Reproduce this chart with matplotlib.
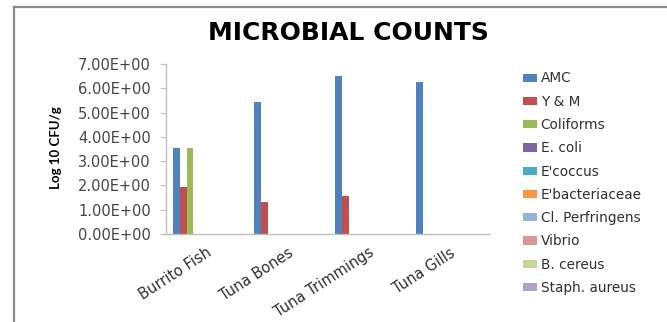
import matplotlib
matplotlib.use("Agg")
import matplotlib.pyplot as plt
import numpy as np
from matplotlib.lines import Line2D

categories = ["Burrito Fish", "Tuna Bones", "Tuna Trimmings", "Tuna Gills"]
series_names = ["AMC", "Y & M", "Coliforms", "E. coli", "E'coccus", "E'bacteriaceae",
                "Cl. Perfringens", "Vibrio", "B. cereus", "Staph. aureus"]
amc = [3.55, 5.42, 6.51, 6.24]
y_m = [1.95, 1.33, 1.58, 0.0]
coliforms = [3.55, 0.0, 0.0, 0.0]
e_coli = [0.0, 0.0, 0.0, 0.0]
e_coccus = [0.0, 0.0, 0.0, 0.0]
e_bacteriaceae = [0.0, 0.0, 0.0, 0.0]
cl_perfringens = [0.0, 0.0, 0.0, 0.0]
vibrio = [0.0, 0.0, 0.0, 0.0]
b_cereus = [0.0, 0.0, 0.0, 0.0]
staph_aureus = [0.0, 0.0, 0.0, 0.0]
series_values = [amc, y_m, coliforms, e_coli, e_coccus, e_bacteriaceae,
                 cl_perfringens, vibrio, b_cereus, staph_aureus]
yticks = [0, 1, 2, 3, 4, 5, 6, 7]
ytick_labels = ["0.00E+00", "1.00E+00", "2.00E+00", "3.00E+00", "4.00E+00",
                "5.00E+00", "6.00E+00", "7.00E+00"]

colors = ["#4F81BD", "#C0504D", "#9BBB59", "#8064A2", "#4BACC6", "#F79646",
          "#95B3D7", "#D99694", "#C3D69B", "#B3A2C7"]

W, H = 667, 322
fig = plt.figure(figsize=(W / 100, H / 100), dpi=100)
fig.patch.set_facecolor("white")

# outer chart border (top and left visible)
fig.add_artist(Line2D([14 / W, 14 / W], [0, 1 - 7 / H], transform=fig.transFigure,
                      color="#8c8c8c", lw=1.6))
fig.add_artist(Line2D([14 / W, 1], [1 - 7 / H, 1 - 7 / H], transform=fig.transFigure,
                      color="#8c8c8c", lw=1.6))

left, right, top, bottom = 166, 490, 64, 234
ax = fig.add_axes([left / W, 1 - bottom / H, (right - left) / W, (bottom - top) / H])

x = np.arange(len(categories))
n = len(series_names)
bw = 0.082
for i, (name, vals, c) in enumerate(zip(series_names, series_values, colors)):
    offs = (i - (n - 1) / 2) * bw
    ax.bar(x + offs, vals, width=bw, color=c, label=name, edgecolor="none")

ax.set_xlim(-0.5, len(categories) - 0.5)
ax.set_ylim(0, 7)
ax.set_yticks(yticks)
ax.set_yticklabels(ytick_labels, fontsize=10.5, color="#454545", family="DejaVu Sans")
ax.set_xticks(x)
ax.set_xticklabels(categories, rotation=33, ha="right", rotation_mode="anchor",
                   fontsize=10.5, color="#303030", family="DejaVu Sans")
ax.tick_params(axis="x", length=0, pad=8)
ax.tick_params(axis="y", length=4, color="#bfbfbf", pad=7)
for s in ["top", "right"]:
    ax.spines[s].set_visible(False)
for s in ["left", "bottom"]:
    ax.spines[s].set_color("#bfbfbf")
    ax.spines[s].set_linewidth(1.0)

fig.text(348 / W, 1 - 33 / H, "MICROBIAL COUNTS", ha="center", va="center",
         fontsize=18, fontweight="bold", family="DejaVu Sans", color="black")
fig.text(56 / W, 1 - 148 / H, "Log 10 CFU/g", ha="center", va="center", rotation=90,
         fontsize=9.5, fontweight="bold", family="Lato", color="black")

leg = fig.legend(loc="upper left", bbox_to_anchor=(523 / W, 1 - 71.5 / H),
                 frameon=False, prop={"family": "DejaVu Sans", "size": 9.8},
                 handlelength=1.0, handleheight=0.55, handletextpad=0.3,
                 labelspacing=0.68, borderaxespad=0, borderpad=0)
for t in leg.get_texts():
    t.set_color("#303030")

fig.savefig("out.png", dpi=100)
